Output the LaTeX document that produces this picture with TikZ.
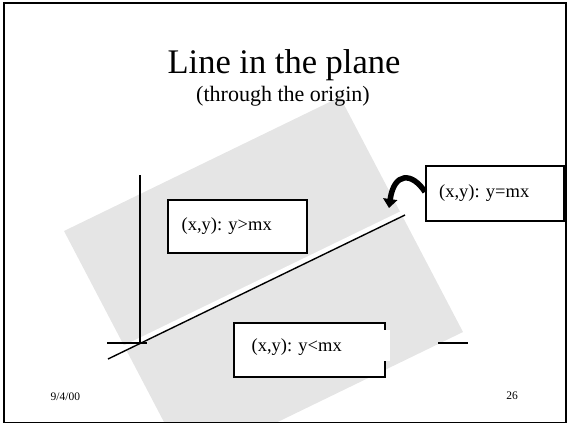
\documentclass[tikz,border=0pt]{standalone}
\usepackage{fontspec}
\setmainfont{Liberation Serif}
\usetikzlibrary{arrows.meta}
\definecolor{planegray}{RGB}{229,229,229}
\begin{document}
\begin{tikzpicture}[x=1bp,y=-1bp,
  box/.style={draw=black, line width=1.8bp, fill=white, inner sep=0pt, anchor=north west},
  lbl/.style={font=\fontsize{18.5bp}{22bp}\selectfont, anchor=base west, inner sep=0pt},
  foot/.style={font=\fontsize{11.5bp}{14bp}\selectfont, inner sep=0pt},
  axis/.style={draw=black, line width=1.8bp},
  thinline/.style={draw=black, line width=1.4bp}]
\useasboundingbox (0,0) rectangle (567,424);
% shaded half-planes
\begin{scope}
\clip (0,0) rectangle (567,422);
\fill[planegray] (64,231) -- (340,97) -- (463,332) -- (187,466) -- cycle;
\end{scope}
\draw[white, line width=5.5bp] (58.8,380.0) -- (468.8,181.3);
% axes
\coordinate (O) at (140,343.5);
\coordinate (ytop) at (140,175);
\coordinate (xl) at (107,343);
\coordinate (xlr) at (147,343);
\coordinate (xr1) at (438,343);
\coordinate (xr2) at (468,343);
\draw[axis] (ytop) -- (O);
\draw[axis] (xl) -- (xlr);
\draw[axis] (xr1) -- (xr2);
% the line y = mx
\coordinate (P1) at (108,359);
\coordinate (P2) at (405,215);
\draw[thinline] (P1) -- (P2);
% boxes
\node[box, minimum width=139bp, minimum height=53bp] (gtbox) at (167,199) {};
\node[lbl] (gt) at (181.5,230) {(x,y): y>mx};
\node[box, minimum width=138bp, minimum height=55bp] (eqbox) at (425,165) {};
\node[lbl] (eq) at (439,197) {(x,y): y=mx};
\node[box, minimum width=151bp, minimum height=54bp] (ltbox) at (233,322) {};
\node[fill=white, inner sep=0pt, minimum width=155.5bp, minimum height=31bp, anchor=north west] (ltpatch) at (234.5,330) {};
\node[lbl] (lt) at (251.5,351) {(x,y): y<mx};
% curved arrow
\coordinate (tip) at (389,208);
\draw[line width=5.5bp, -{Triangle[length=9bp,width=14bp]}] ([yshift=1.5bp]eqbox.west) .. controls (412,172) and (394,172) .. (tip);
% titles
\node[font=\fontsize{34.5bp}{40bp}\selectfont, anchor=base, inner sep=0pt] (title) at (284,73) {Line in the plane};
\node[font=\fontsize{22bp}{26bp}\selectfont, anchor=base, inner sep=0pt] (sub) at (283,101) {(through the origin)};
% footer
\node[foot, anchor=base west] (date) at (50.5,400) {9/4/00};
\node[foot, anchor=base east] (page) at (518,399) {26};
% frame
\draw[line width=1.5bp] (4,3) rectangle (566,422.5);
\end{tikzpicture}
\end{document}
